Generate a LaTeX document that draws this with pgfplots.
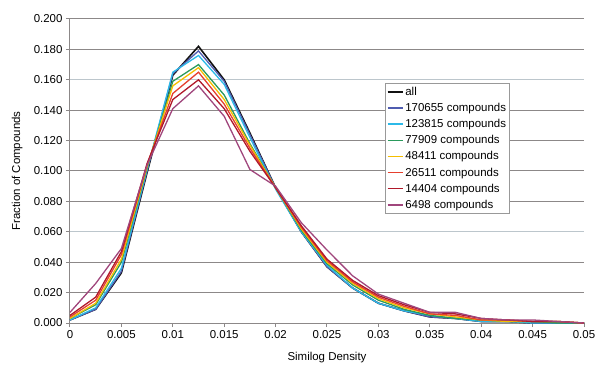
\documentclass[border=0pt]{standalone}
\usepackage{fontspec}
\setmainfont{Liberation Sans}
\usepackage{pgfplots}
\usepackage{pgfplotstable}
\pgfplotsset{compat=1.18}
\definecolor{cAll}{HTML}{111111}
\definecolor{cB}{HTML}{4F5CB0}
\definecolor{cC}{HTML}{2CB9E8}
\definecolor{cG}{HTML}{2A9A5C}
\definecolor{cY}{HTML}{F5BE00}
\definecolor{cR}{HTML}{E6402E}
\definecolor{cD}{HTML}{B0182A}
\definecolor{cP}{HTML}{A0467C}
\definecolor{gridc}{HTML}{8C8888}
\definecolor{gridl}{HTML}{BCC6CC}
\pgfplotstableread{
x      a      b      c      g      y      r      d      p
0      0.002  0.002  0.002  0.003  0.003  0.004  0.005  0.007
0.0025 0.009  0.009  0.010  0.012  0.013  0.015  0.017  0.026
0.005  0.033  0.034  0.036  0.040  0.042  0.045  0.047  0.049
0.0075 0.099  0.100  0.101  0.102  0.103  0.104  0.105  0.104
0.01   0.163  0.164  0.165  0.159  0.156  0.151  0.147  0.141
0.0125 0.182  0.179  0.176  0.170  0.168  0.165  0.160  0.156
0.015  0.160  0.159  0.157  0.150  0.147  0.144  0.141  0.136
0.0175 0.125  0.124  0.122  0.118  0.117  0.115  0.113  0.101
0.02   0.089  0.089  0.088  0.089  0.089  0.089  0.089  0.090
0.0225 0.060  0.060  0.060  0.061  0.062  0.063  0.064  0.066
0.025  0.037  0.037  0.038  0.039  0.040  0.041  0.042  0.048
0.0275 0.023  0.023  0.023  0.025  0.026  0.027  0.028  0.031
0.03   0.013  0.013  0.013  0.015  0.016  0.017  0.018  0.019
0.0325 0.008  0.008  0.008  0.009  0.010  0.011  0.012  0.013
0.035  0.004  0.004  0.005  0.005  0.006  0.006  0.007  0.007
0.0375 0.003  0.003  0.003  0.003  0.004  0.005  0.006  0.007
0.04   0.001  0.001  0.001  0.002  0.002  0.002  0.003  0.003
0.0425 0.001  0.001  0.001  0.001  0.001  0.002  0.002  0.002
0.045  0.000  0.000  0.000  0.001  0.001  0.001  0.001  0.002
0.0475 0.000  0.000  0.000  0.000  0.001  0.001  0.001  0.001
0.05   0.000  0.000  0.000  0.000  0.000  0.000  0.000  0.000
}\datatable
\begin{document}
\begin{tikzpicture}
\begin{axis}[
  scale only axis,
  width=514bp, height=304bp,
  xmin=0, xmax=0.05, ymin=0, ymax=0.2,
  xtick={0,0.005,...,0.0501},
  ytick={0,0.02,0.04,0.08,0.1,0.12,0.14,0.18,0.2},
  extra y ticks={0.06,0.16},
  extra y tick style={grid=major, major grid style={gridl, line width=1.3bp}},
  scaled ticks=false,
  xticklabel style={/pgf/number format/fixed, /pgf/number format/precision=3},
  yticklabel style={/pgf/number format/fixed, /pgf/number format/fixed zerofill, /pgf/number format/precision=3},
  /pgf/number format/assume math mode=true,
  tick label style={font=\fontsize{11.5}{13}\selectfont},
  ymajorgrids,
  major grid style={gridc, line width=1bp},
  axis lines*=left,
  axis line style={gridc, line width=1bp},
  tick align=outside,
  major tick length=4bp,
  tick style={gridc, line width=1bp},
  xlabel={Similog Density},
  ylabel={Fraction of Compounds},
  label style={font=\fontsize{11.5}{13}\selectfont},
  xlabel style={at={(axis description cs:0.5,-0.112)}, anchor=center},
  ylabel style={at={(axis description cs:-0.103,0.5)}, anchor=center},
  legend style={at={(rel axis cs:0.613,0.789)}, anchor=north west, draw=gray!80, fill=white,
    font=\fontsize{11.5}{13}\selectfont, row sep=2.4bp, inner sep=1.5bp, cells={anchor=west}},
  legend image code/.code={\draw[#1] (0bp,0bp) -- (15bp,0bp);},
  every axis plot/.append style={line width=1.3bp, mark=none},
]
\addplot[cAll, line width=1.6bp] table[x=x,y=a] {\datatable};
\addlegendentry{all}
\addplot[cB] table[x=x,y=b] {\datatable};
\addlegendentry{170655 compounds}
\addplot[cC] table[x=x,y=c] {\datatable};
\addlegendentry{123815 compounds}
\addplot[cG] table[x=x,y=g] {\datatable};
\addlegendentry{77909 compounds}
\addplot[cY] table[x=x,y=y] {\datatable};
\addlegendentry{48411 compounds}
\addplot[cR] table[x=x,y=r] {\datatable};
\addlegendentry{26511 compounds}
\addplot[cD] table[x=x,y=d] {\datatable};
\addlegendentry{14404 compounds}
\addplot[cP] table[x=x,y=p] {\datatable};
\addlegendentry{6498 compounds}
\coordinate (bl) at (rel axis cs:0,0);
\end{axis}
\pgfresetboundingbox
\path[use as bounding box] (bl) ++(-70bp,-45bp) rectangle ++(597bp,368bp);
\end{tikzpicture}
\end{document}
